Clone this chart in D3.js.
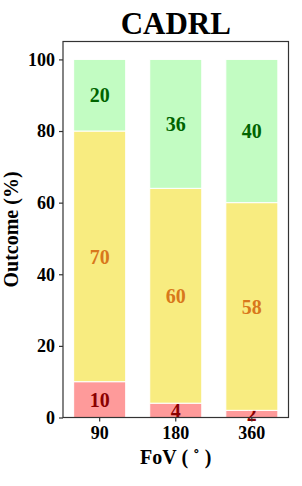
<!DOCTYPE html>
<html>
<head>
<meta charset="utf-8">
<script src="https://cdn.jsdelivr.net/npm/d3@7"></script>
<style>
  body { margin: 0; background: #fff; }
  text { font-family: "Liberation Serif", "Times New Roman", serif; font-weight: bold; }
</style>
</head>
<body>
<div id="chart"></div>
<script>
'use strict';

var fovs = ["90", "180", "360"];
var collision = [10, 4, 2];
var timeout = [70, 60, 58];
var success = [20, 36, 40];
var yTicks = [0, 20, 40, 60, 80, 100];

var series = [
    { key: "collision", values: collision, fill: "#fe9a9a", text: "#8b0000" },
    { key: "timeout", values: timeout, fill: "#f8ec80", text: "#d8781c" },
    { key: "success", values: success, fill: "#c2fcc2", text: "#006400" }
];

var width = 302, height = 486;
var margin = { top: 41.5, right: 13.5, bottom: 68.5, left: 63 };
var innerW = width - margin.left - margin.right;
var innerH = height - margin.top - margin.bottom;

var svg = d3.select("#chart").append("svg")
    .attr("width", width)
    .attr("height", height);

var g = svg.append("g")
    .attr("transform", "translate(" + margin.left + "," + margin.top + ")");

var x = d3.scaleBand()
    .domain(fovs)
    .range([0, innerW])
    .paddingInner(0.316)
    .paddingOuter(0.14);

var y = d3.scaleLinear()
    .domain([0, 105])
    .range([innerH, 0]);

// stack the segments
var rows = fovs.map(function(f, i) {
    var r = { fov: f };
    series.forEach(function(s) { r[s.key] = s.values[i]; });
    return r;
});
var stacked = d3.stack().keys(series.map(s => s.key))(rows);

stacked.forEach(function(layer, li) {
    var s = series[li];
    var lg = g.append("g");
    lg.selectAll("rect")
        .data(layer)
        .enter().append("rect")
        .attr("x", d => x(d.data.fov))
        .attr("y", d => y(d[1]))
        .attr("width", x.bandwidth())
        .attr("height", d => y(d[0]) - y(d[1]))
        .attr("fill", s.fill)
        .attr("stroke", "#fff")
        .attr("stroke-width", 1);
    lg.selectAll("text")
        .data(layer)
        .enter().append("text")
        .attr("x", d => x(d.data.fov) + x.bandwidth() / 2)
        .attr("y", d => y((d[0] + d[1]) / 2))
        .attr("dy", "0.36em")
        .attr("text-anchor", "middle")
        .attr("fill", s.text)
        .style("font-size", "20px")
        .text(d => d.data[s.key]);
});

// frame
g.append("rect")
    .attr("width", innerW)
    .attr("height", innerH)
    .attr("fill", "none")
    .attr("stroke", "#333")
    .attr("stroke-width", 1.2);

var yAxis = g.append("g")
    .call(d3.axisLeft(y).tickValues(yTicks).tickSize(4).tickPadding(4));
var xAxis = g.append("g")
    .attr("transform", "translate(0," + innerH + ")")
    .call(d3.axisBottom(x).tickSize(4).tickPadding(5));

[yAxis, xAxis].forEach(function(a) {
    a.select(".domain").remove();
    a.selectAll(".tick line").attr("stroke", "#333").attr("stroke-width", 1.2);
    a.selectAll(".tick text")
        .attr("fill", "#000")
        .style("font-size", "18px")
        .style("font-family", "'Liberation Serif', serif")
        .style("font-weight", "bold");
});

svg.append("text")
    .attr("x", margin.left + innerW / 2)
    .attr("y", 34)
    .attr("text-anchor", "middle")
    .style("font-size", "31px")
    .text("CADRL");

svg.append("text")
    .attr("x", margin.left + innerW / 2)
    .attr("y", 464)
    .attr("text-anchor", "middle")
    .style("font-size", "20px")
    .text("FoV ( \u02da )");

svg.append("text")
    .attr("transform", "translate(18," + (margin.top + innerH / 2) + ") rotate(-90)")
    .attr("text-anchor", "middle")
    .style("font-size", "20px")
    .text("Outcome (%)");
</script>
</body>
</html>
